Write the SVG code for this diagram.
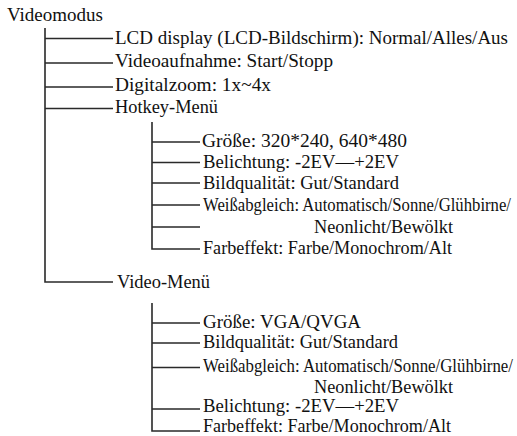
<svg xmlns="http://www.w3.org/2000/svg" width="517" height="436" viewBox="0 0 517 436">
<style>
text{font-family:"Liberation Serif","Times New Roman",serif;font-size:18px;fill:#111}
.c{stroke:#2a2a2a;stroke-width:1.6;fill:none}
</style>
<rect width="517" height="436" fill="#fff"/>
<g id="connectors" class="c">
<path d="M45 28V282H113"/>
<path d="M45 38.5H113M45 63H113M45 87H113M45 108.5H113"/>
<path d="M152 122V249H200"/>
<path d="M152 142H200M152 162.5H200M152 183H200M152 205H200M152 227H200"/>
<path d="M152 303V431H200"/>
<path d="M152 323H200M152 343H200M152 367.5H200M152 409H200"/>
</g>
<g id="n-videomodus"><text x="7" y="21" textLength="96" lengthAdjust="spacingAndGlyphs">Videomodus</text></g>
<g id="n-lcd"><text x="115" y="44" textLength="393" lengthAdjust="spacingAndGlyphs">LCD display (LCD-Bildschirm): Normal/Alles/Aus</text></g>
<g id="n-aufnahme"><text x="115" y="67" textLength="218" lengthAdjust="spacingAndGlyphs">Videoaufnahme: Start/Stopp</text></g>
<g id="n-zoom"><text x="115" y="91" textLength="156" lengthAdjust="spacingAndGlyphs">Digitalzoom: 1x~4x</text></g>
<g id="n-hotkey"><text x="115" y="113" textLength="103" lengthAdjust="spacingAndGlyphs">Hotkey-Menü</text></g>
<g id="n-h-groesse"><text x="202" y="147" textLength="205" lengthAdjust="spacingAndGlyphs">Größe: 320*240, 640*480</text></g>
<g id="n-h-belichtung"><text x="203" y="168" textLength="196" lengthAdjust="spacingAndGlyphs">Belichtung: -2EV—+2EV</text></g>
<g id="n-h-bild"><text x="203" y="189" textLength="196" lengthAdjust="spacingAndGlyphs">Bildqualität: Gut/Standard</text></g>
<g id="n-h-weiss"><text x="203" y="211" textLength="308" lengthAdjust="spacingAndGlyphs">Weißabgleich: Automatisch/Sonne/Glühbirne/</text><text x="314" y="233" textLength="139" lengthAdjust="spacingAndGlyphs">Neonlicht/Bewölkt</text></g>
<g id="n-h-farbe"><text x="203" y="254" textLength="249" lengthAdjust="spacingAndGlyphs">Farbeffekt: Farbe/Monochrom/Alt</text></g>
<g id="n-videomenu"><text x="117" y="288" textLength="93" lengthAdjust="spacingAndGlyphs">Video-Menü</text></g>
<g id="n-v-groesse"><text x="203" y="328" textLength="158" lengthAdjust="spacingAndGlyphs">Größe: VGA/QVGA</text></g>
<g id="n-v-bild"><text x="203" y="348" textLength="195" lengthAdjust="spacingAndGlyphs">Bildqualität: Gut/Standard</text></g>
<g id="n-v-weiss"><text x="203" y="372" textLength="310" lengthAdjust="spacingAndGlyphs">Weißabgleich: Automatisch/Sonne/Glühbirne/</text><text x="314" y="393" textLength="139" lengthAdjust="spacingAndGlyphs">Neonlicht/Bewölkt</text></g>
<g id="n-v-belichtung"><text x="203" y="412" textLength="196" lengthAdjust="spacingAndGlyphs">Belichtung: -2EV—+2EV</text></g>
<g id="n-v-farbe"><text x="203" y="432" textLength="248" lengthAdjust="spacingAndGlyphs">Farbeffekt: Farbe/Monochrom/Alt</text></g>
</svg>
